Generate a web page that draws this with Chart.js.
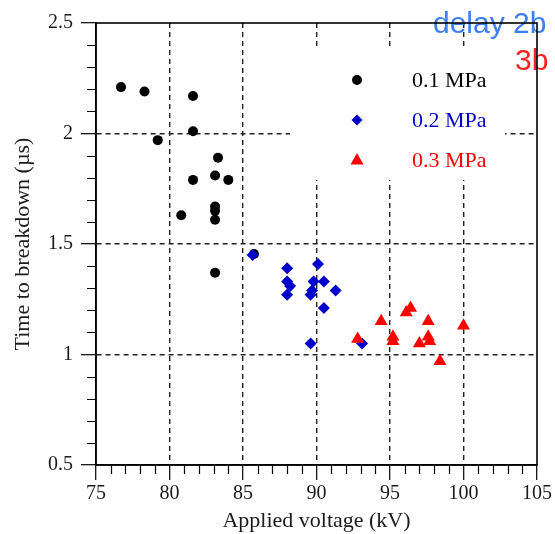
<!DOCTYPE html>
<html lang="en">
<head>
    <meta charset="UTF-8">
    <title>Time to breakdown</title>
    <style>
        body { margin: 0; background: #fff; }
        canvas { display: block; }
    </style>
</head>
<body>
    <canvas id="grafico" width="555" height="534"></canvas>
</body>
<script src="https://cdn.jsdelivr.net/npm/chart.js@4.4.0/dist/chart.umd.min.js"></script>
<script>
    // datos por presion
    var voltaje01 = [76.7, 78.3, 81.6, 81.6, 79.2, 83.3, 83.1, 84.0, 81.6, 83.1, 83.1, 80.8, 83.1, 83.1, 85.75];
    var tiempo01  = [2.21, 2.19, 2.17, 2.01, 1.97, 1.89, 1.81, 1.79, 1.79, 1.67, 1.65, 1.63, 1.61, 1.37, 1.455];

    var voltaje02 = [85.65, 88.0, 90.1, 88.0, 88.2, 88.0, 89.8, 90.5, 89.7, 89.6, 91.3, 90.5, 89.6, 93.1];
    var tiempo02  = [1.45, 1.39, 1.41, 1.33, 1.31, 1.27, 1.33, 1.33, 1.29, 1.27, 1.29, 1.21, 1.05, 1.05];

    var voltaje03 = [92.8, 94.4, 95.2, 95.2, 96.1, 96.4, 97.6, 97.6, 97.7, 97.0, 98.4, 100.0];
    var tiempo03  = [1.07, 1.15, 1.08, 1.06, 1.19, 1.21, 1.15, 1.08, 1.06, 1.05, 0.97, 1.13];

    var etiquetas = ["0.1 MPa", "0.2 MPa", "0.3 MPa"];
    var colores = ["#000000", "#0000cc", "#ff0000"];
    var ejeX = [75, 105];
    var ejeY = [0.5, 2.5];

    function puntos(xs, ys) {
        return xs.map(function (x, i) { return { x: x, y: ys[i] }; });
    }

    var serif = "'Liberation Serif', 'Times New Roman', serif";

    // caja de leyenda, bordes, marcas menores y anotacion
    var extras = {
        id: 'extras',
        beforeDatasetsDraw: function (chart) {
            var ctx = chart.ctx;
            ctx.save();
            ctx.fillStyle = '#fff';
            ctx.fillRect(290, 48, 215, 132);
            ctx.restore();
        },
        afterDraw: function (chart) {
            var ctx = chart.ctx;
            var a = chart.chartArea;
            var sx = chart.scales.x, sy = chart.scales.y;
            ctx.save();

            // leyenda
            var filas = [80, 120, 160];
            for (var i = 0; i < 3; i++) {
                var cx = 357, cy = filas[i];
                ctx.fillStyle = colores[i];
                ctx.beginPath();
                if (i == 0) {
                    ctx.arc(cx, cy, 5, 0, Math.PI * 2);
                } else if (i == 1) {
                    ctx.moveTo(cx, cy - 5.5); ctx.lineTo(cx + 5.5, cy);
                    ctx.lineTo(cx, cy + 5.5); ctx.lineTo(cx - 5.5, cy);
                } else {
                    ctx.moveTo(cx, cy - 7); ctx.lineTo(cx + 6.5, cy + 4.5); ctx.lineTo(cx - 6.5, cy + 4.5);
                }
                ctx.closePath();
                ctx.fill();
                ctx.font = "22px " + serif;
                ctx.textBaseline = 'middle';
                ctx.textAlign = 'left';
                ctx.fillText(etiquetas[i], 412, cy + 1);
            }

            // texto anotado arriba a la derecha
            ctx.font = "30px 'Liberation Sans', Arial, sans-serif";
            ctx.textBaseline = 'alphabetic';
            ctx.fillStyle = '#3b7ff2';
            ctx.fillText("delay 2b", 433, 33);
            ctx.fillStyle = '#ff2020';
            ctx.fillText("3b", 515, 70);

            // marcas menores
            ctx.strokeStyle = '#000';
            ctx.lineWidth = 1.2;
            ctx.beginPath();
            for (var v = ejeX[0] + 1; v < ejeX[1]; v++) {
                if (v % 5 == 0) continue;
                var px = Math.round(sx.getPixelForValue(v)) + 0.5;
                ctx.moveTo(px, a.bottom); ctx.lineTo(px, a.bottom + 9);
            }
            for (var k = 6; k < 25; k++) {
                if (k % 5 == 0) continue;
                var py = Math.round(sy.getPixelForValue(k / 10)) + 0.5;
                ctx.moveTo(a.left - 9, py); ctx.lineTo(a.left, py);
            }
            ctx.stroke();

            // marco
            ctx.lineWidth = 1.6;
            ctx.strokeRect(a.left, a.top, a.right - a.left, a.bottom - a.top);
            ctx.restore();
        }
    };

    function rejilla(limites) {
        return function (c) {
            var v = c.tick ? c.tick.value : null;
            return (v == limites[0] || v == limites[1]) ? 'rgba(0,0,0,0)' : '#222';
        };
    }

    var ctx = document.getElementById('grafico').getContext('2d');
    var grafico = new Chart(ctx, {
        type: 'scatter',
        data: {
            datasets: [
                { label: etiquetas[0], data: puntos(voltaje01, tiempo01), backgroundColor: colores[0], borderColor: colores[0],
                  pointStyle: 'circle', pointRadius: 5, borderWidth: 0, order: 3 },
                { label: etiquetas[1], data: puntos(voltaje02, tiempo02), backgroundColor: colores[1], borderColor: colores[1],
                  pointStyle: 'rectRot', pointRadius: 6, borderWidth: 0, order: 2 },
                { label: etiquetas[2], data: puntos(voltaje03, tiempo03), backgroundColor: colores[2], borderColor: colores[2],
                  pointStyle: 'triangle', pointRadius: 7.5, borderWidth: 0, order: 1 }
            ]
        },
        options: {
            responsive: false,
            animation: false,
            layout: { padding: { top: 23, right: 18, left: 0, bottom: 0 } },
            plugins: {
                legend: { display: false },
                tooltip: { enabled: false }
            },
            scales: {
                x: {
                    type: 'linear',
                    min: ejeX[0], max: ejeX[1],
                    ticks: { stepSize: 5, color: '#1a1a1a', font: { family: serif, size: 20 }, padding: 2, maxRotation: 0, autoSkip: false },
                    grid: { color: rejilla(ejeX), lineWidth: 1.4, tickColor: '#000', tickLength: 15, tickWidth: 1.2 },
                    border: { display: true, color: '#000', width: 1.6, dash: [5, 4] },
                    title: { display: true, text: 'Applied voltage (kV)', color: '#1a1a1a', font: { family: serif, size: 22 }, padding: 0 },
                    afterFit: function (s) { s.height = 69; }
                },
                y: {
                    type: 'linear',
                    min: ejeY[0], max: ejeY[1],
                    ticks: { stepSize: 0.5, color: '#1a1a1a', font: { family: serif, size: 20 }, padding: 8,
                             callback: function (valor) { return String(valor); } },
                    grid: { color: rejilla(ejeY), lineWidth: 1.4, tickColor: '#000', tickLength: 15, tickWidth: 1.2 },
                    border: { display: true, color: '#000', width: 1.6, dash: [5, 4] },
                    title: { display: true, text: 'Time to breakdown (\u00b5s)', color: '#1a1a1a', font: { family: serif, size: 22 }, padding: { top: 10, bottom: 0 } },
                    afterFit: function (s) { s.width = 96; }
                }
            }
        },
        plugins: [extras]
    });
</script>
</html>
